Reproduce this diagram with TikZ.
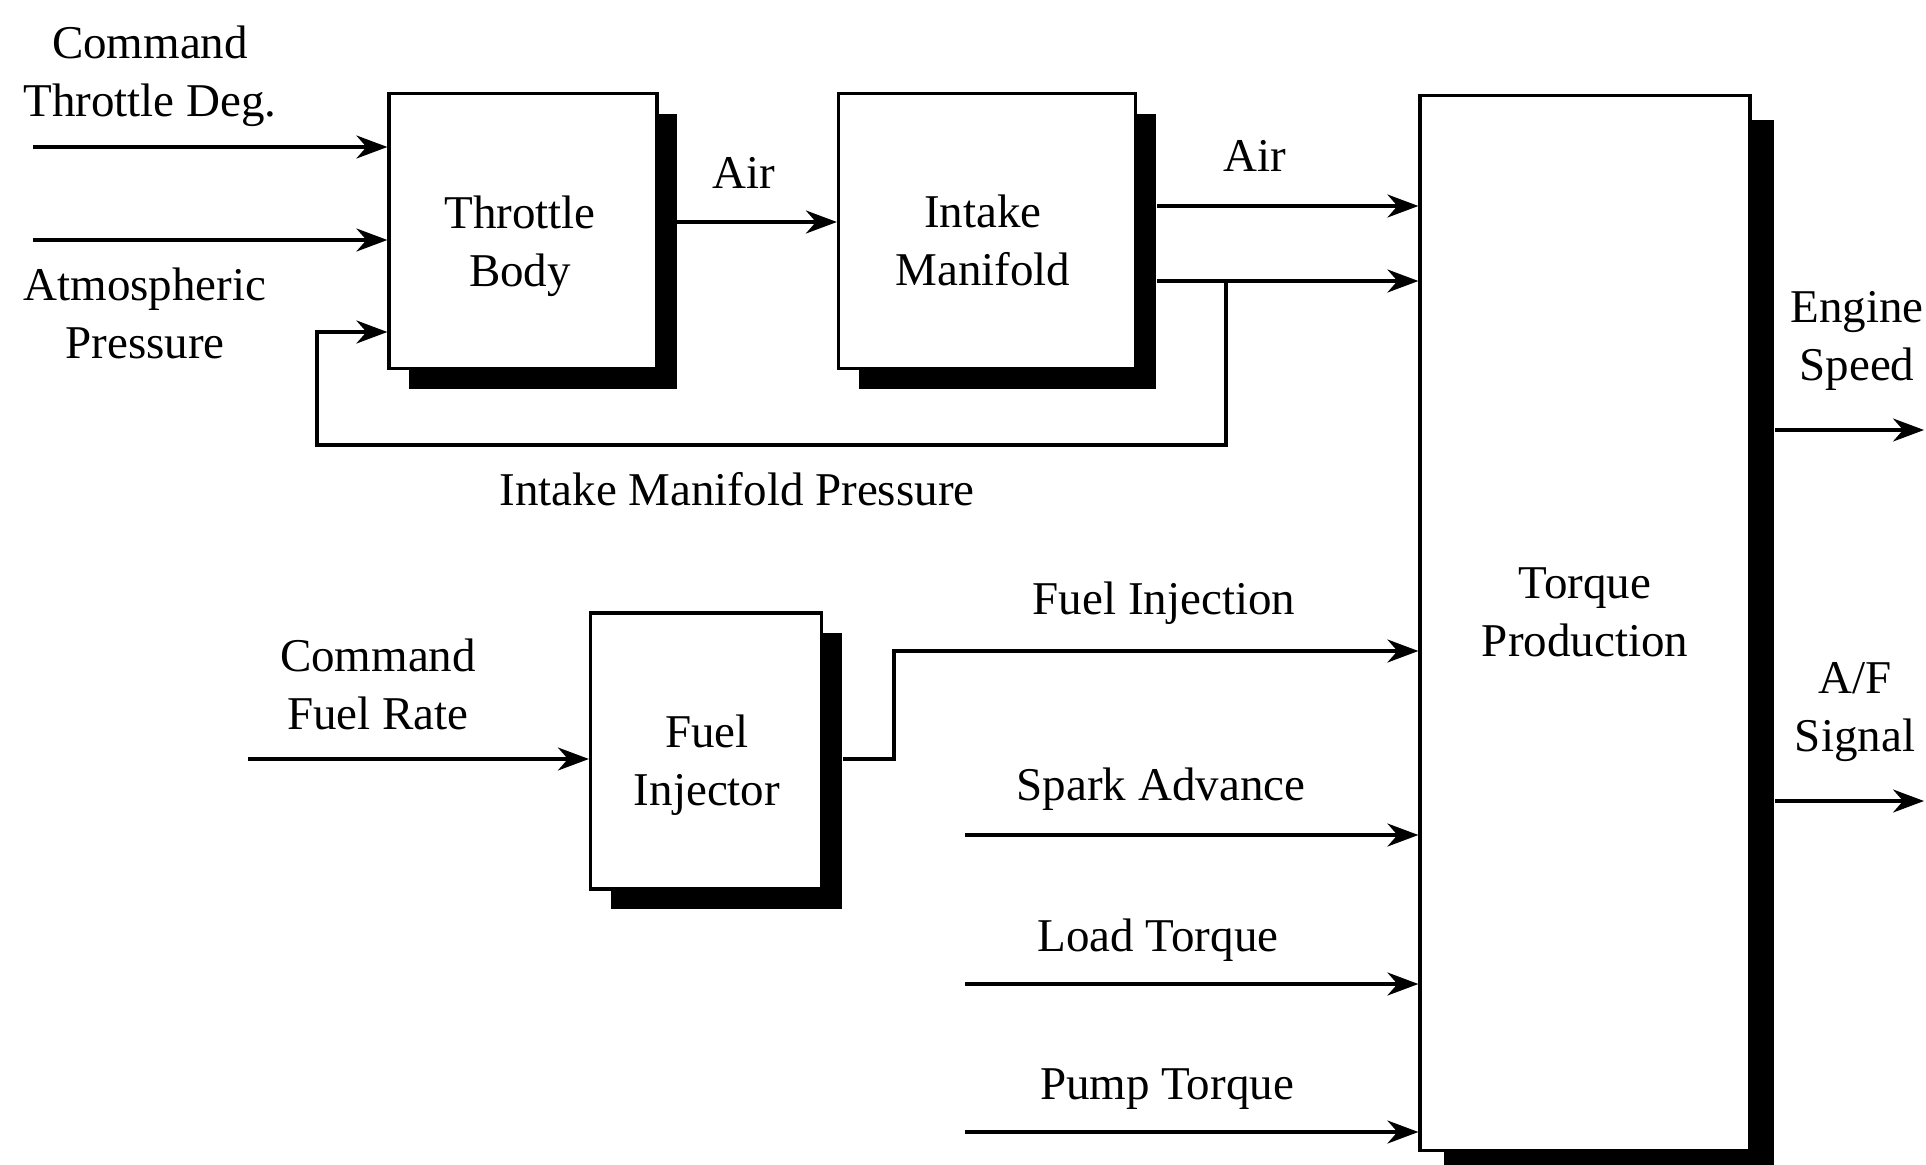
\documentclass[tikz,border=0pt]{standalone}
\usepackage{fontspec}
\setmainfont{Liberation Serif}
\usetikzlibrary{arrows.meta,shadows}
\begin{document}
\begin{tikzpicture}[x=1pt,y=-1pt,
  txt/.style={font=\fontsize{47}{58}\selectfont, align=center, inner sep=0pt},
  blk/.style={draw, line width=3.2pt, fill=white, inner sep=0pt,
    drop shadow={shadow xshift=20pt, shadow yshift=-20pt, opacity=1, fill=black}},
  bigblk/.style={draw, line width=3.2pt, fill=white, inner sep=0pt,
    drop shadow={shadow xshift=24pt, shadow yshift=-24pt, opacity=1, fill=black}},
  arr/.style={line width=3.2pt, -{Stealth[length=31pt, width=23pt, inset=10pt]}}]
\useasboundingbox (0,0) rectangle (1926,1164);

% blocks
\node[blk, minimum width=268pt, minimum height=275pt] (tb) at (523,231) {};
\node[txt] (tbt) at (520,246) {Throttle\\Body};
\node[blk, minimum width=297pt, minimum height=275pt] (im) at (987,231) {};
\node[txt] (imt) at (983,240) {Intake\\Manifold};
\node[blk, minimum width=231pt, minimum height=276pt] (fi) at (706,751) {};
\node[txt] (fit) at (707,765) {Fuel\\Injector};
\node[bigblk, minimum width=330pt, minimum height=1055pt] (tp) at (1585,623) {};
\node[txt] (tpt) at (1585,612) {Torque\\Production};

% labels
\node[txt] (lctd) at (150,76) {Command\\Throttle Deg.};
\node[txt] (latm) at (145,313) {Atmospheric\\Pressure};
\node[txt] (lair1) at (744,173) {Air};
\node[txt] (lair2) at (1255,156) {Air};
\node[txt] (limp) at (737,489) {Intake Manifold Pressure};
\node[txt] (lcfr) at (378,684) {Command\\Fuel Rate};
\node[txt] (lfinj) at (1164,603) {Fuel Injection};
\node[txt] (lspk) at (1161,789) {Spark Advance};
\node[txt] (lload) at (1158,940) {Load Torque};
\node[txt] (lpump) at (1167,1089) {Pump Torque};
\node[txt] (leng) at (1857,341) {Engine\\Speed};
\node[txt] (laf) at (1855,712) {A/F\\Signal};

% coordinates
\coordinate (ctd) at (33,147);
\coordinate (atm) at (33,240);
\coordinate (tbo) at (677,222);
\coordinate (imo1) at (1157,206);
\coordinate (imo2) at (1157,281);
\coordinate (fb1) at (1226,281);
\coordinate (fb2) at (1226,445);
\coordinate (fb3) at (317,445);
\coordinate (fb4) at (317,332);
\coordinate (cfr) at (248,759);
\coordinate (fio) at (843,759);
\coordinate (fj1) at (894,759);
\coordinate (fj2) at (894,651);
\coordinate (spk) at (965,835);
\coordinate (load) at (965,984);
\coordinate (pump) at (965,1132);
\coordinate (eso) at (1775,430);
\coordinate (ese) at (1924,430);
\coordinate (afo) at (1775,801);
\coordinate (afe) at (1924,801);

% connectors
\draw[arr] (ctd) -- (ctd -| tb.west);
\draw[arr] (atm) -- (atm -| tb.west);
\draw[arr] (tbo) -- (tbo -| im.west);
\draw[arr] (imo1) -- (imo1 -| tp.west);
\draw[arr] (imo2) -- (imo2 -| tp.west);
\draw[arr] (fb1) -- (fb2) -- (fb3) -- (fb4) -- (fb4 -| tb.west);
\draw[arr] (cfr) -- (cfr -| fi.west);
\draw[arr] (fio) -- (fj1) -- (fj2) -- (fj2 -| tp.west);
\draw[arr] (spk) -- (spk -| tp.west);
\draw[arr] (load) -- (load -| tp.west);
\draw[arr] (pump) -- (pump -| tp.west);
\draw[arr] (eso) -- (ese);
\draw[arr] (afo) -- (afe);
\end{tikzpicture}
\end{document}
